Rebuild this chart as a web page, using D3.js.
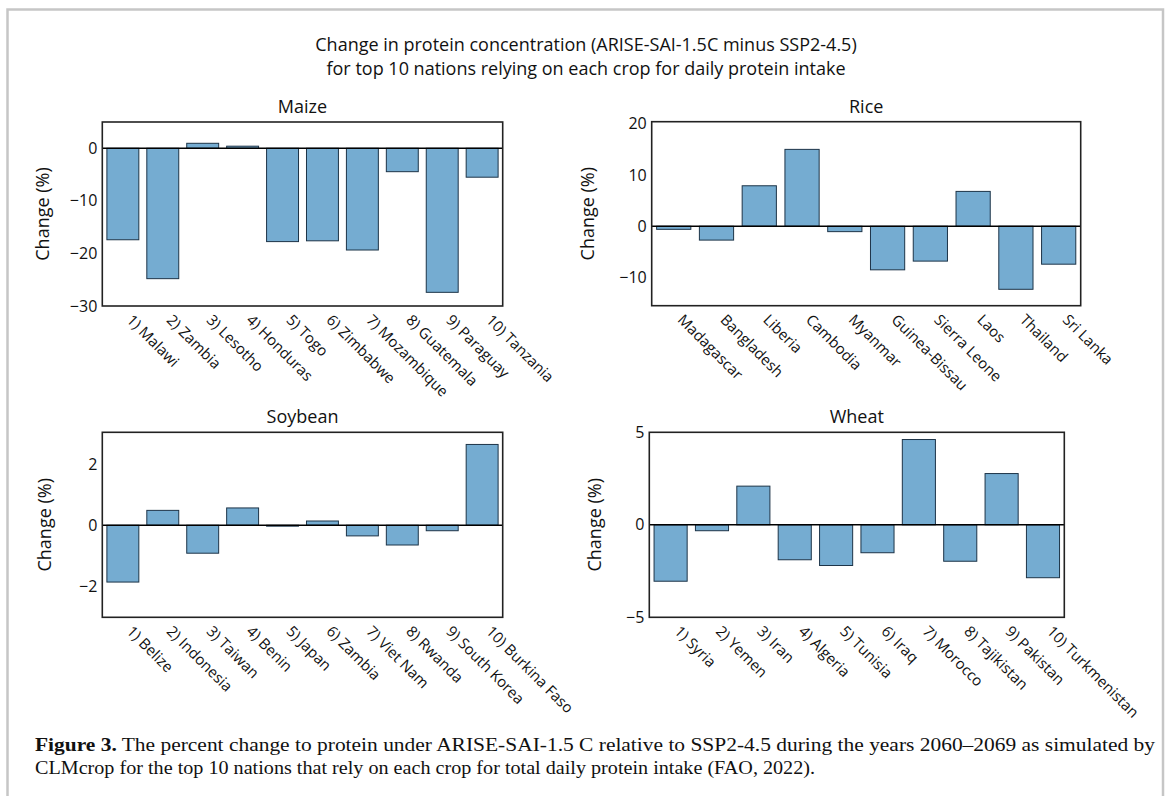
<!DOCTYPE html>
<html>
<head>
<meta charset="utf-8">
<script src="https://cdn.jsdelivr.net/npm/d3@7"></script>
<style>
    body { margin: 0; background: #fff; }
    svg text { font-family: 'Open Sans', 'Noto Sans', sans-serif; fill: #111; }
    .caption text { font-family: 'Liberation Serif', 'DejaVu Serif', serif; }
</style>
</head>
<body>
<div id="chart"></div>
<script>
// Data
const maizeNations = ['1) Malawi', '2) Zambia', '3) Lesotho', '4) Honduras', '5) Togo',
    '6) Zimbabwe', '7) Mozambique', '8) Guatemala', '9) Paraguay', '10) Tanzania'];
const maizeChange = [-17.4, -24.8, 0.95, 0.4, -17.75, -17.6, -19.35, -4.45, -27.4, -5.5];
const maizeTicks = [-30, -20, -10, 0];
const maizeDomain = [-30, 5];

const riceNations = ['Madagascar', 'Bangladesh', 'Liberia', 'Cambodia', 'Myanmar',
    'Guinea-Bissau', 'Sierra Leone', 'Laos', 'Thailand', 'Sri Lanka'];
const riceChange = [-0.6, -2.7, 7.9, 15.0, -1.05, -8.5, -6.8, 6.8, -12.3, -7.4];
const riceTicks = [-10, 0, 10, 20];
const riceDomain = [-15.5, 20.4];

const soyNations = ['1) Belize', '2) Indonesia', '3) Taiwan', '4) Benin', '5) Japan',
    '6) Zambia', '7) Viet Nam', '8) Rwanda', '9) South Korea', '10) Burkina Faso'];
const soyChange = [-1.87, 0.49, -0.92, 0.57, -0.03, 0.14, -0.35, -0.65, -0.18, 2.66];
const soyTicks = [-2, 0, 2];
const soyDomain = [-3.03, 3.06];

const wheatNations = ['1) Syria', '2) Yemen', '3) Iran', '4) Algeria', '5) Tunisia',
    '6) Iraq', '7) Morocco', '8) Tajikistan', '9) Pakistan', '10) Turkmenistan'];
const wheatChange = [-3.05, -0.32, 2.09, -1.89, -2.2, -1.51, 4.61, -1.97, 2.77, -2.86];
const wheatTicks = [-5, 0, 5];
const wheatDomain = [-5, 5];

const titleLines = [
    'Change in protein concentration (ARISE-SAI-1.5C minus SSP2-4.5)',
    'for top 10 nations relying on each crop for daily protein intake',
];

const width = 1167;
const height = 796;

const svg = d3.select('#chart')
    .append('svg')
    .attr('width', width)
    .attr('height', height);

// page frame
svg.append('rect')
    .attr('x', 7.5)
    .attr('y', 9.5)
    .attr('width', 1155.5)
    .attr('height', 900)
    .attr('fill', 'none')
    .attr('stroke', '#c6c6c6')
    .attr('stroke-width', 2.5);

// Suptitle
svg.append('g')
    .selectAll('text')
    .data(titleLines)
    .join('text')
    .attr('x', 586)
    .attr('y', (d, i) => 51 + i * 24)
    .attr('text-anchor', 'middle')
    .attr('font-size', 18)
    .text(d => d);

const panels = [
    { title: 'Maize', nations: maizeNations, values: maizeChange, ticks: maizeTicks, domain: maizeDomain,
      box: { left: 102.3, right: 502.7, top: 122, bottom: 306 }, ylabelX: 43 },
    { title: 'Rice', nations: riceNations, values: riceChange, ticks: riceTicks, domain: riceDomain,
      box: { left: 651.7, right: 1080.7, top: 121.7, bottom: 305.7 }, ylabelX: 588 },
    { title: 'Soybean', nations: soyNations, values: soyChange, ticks: soyTicks, domain: soyDomain,
      box: { left: 102.3, right: 502.7, top: 432.3, bottom: 617.3 }, ylabelX: 45 },
    { title: 'Wheat', nations: wheatNations, values: wheatChange, ticks: wheatTicks, domain: wheatDomain,
      box: { left: 649.3, right: 1064.3, top: 432.3, bottom: 617.3 }, ylabelX: 595 },
];

function renderPanel(p) {
    const g = svg.append('g');
    const b = p.box;

    const x = d3.scaleBand()
        .domain(p.nations)
        .range([b.left, b.right])
        .paddingInner(0.2)
        .paddingOuter(0.115);

    const y = d3.scaleLinear()
        .domain(p.domain)
        .range([b.bottom, b.top]);

    // Bars
    g.append('g')
        .selectAll('rect')
        .data(p.values)
        .join('rect')
        .attr('x', (d, i) => x(p.nations[i]))
        .attr('y', d => y(Math.max(0, d)))
        .attr('width', x.bandwidth())
        .attr('height', d => Math.abs(y(d) - y(0)))
        .attr('fill', '#75acd1')
        .attr('stroke', '#1d3448')
        .attr('stroke-width', 1);

    // zero line
    g.append('line')
        .attr('x1', b.left)
        .attr('x2', b.right)
        .attr('y1', y(0))
        .attr('y2', y(0))
        .attr('stroke', '#000')
        .attr('stroke-width', 1.5);

    // frame
    g.append('rect')
        .attr('x', b.left)
        .attr('y', b.top)
        .attr('width', b.right - b.left)
        .attr('height', b.bottom - b.top)
        .attr('fill', 'none')
        .attr('stroke', '#222')
        .attr('stroke-width', 1.6);

    // Y axis
    const yAxis = g.append('g')
        .attr('transform', `translate(${b.left}, 0)`)
        .call(d3.axisLeft(y)
            .tickValues(p.ticks)
            .tickFormat(d3.format('d'))
            .tickSize(0)
            .tickPadding(5));
    yAxis.select('.domain').remove();
    yAxis.selectAll('text')
        .attr('font-size', 16)
        .attr('fill', '#111');

    // X labels, rotated
    g.append('g')
        .selectAll('text')
        .data(p.nations)
        .join('text')
        .attr('transform', d => `translate(${x(d) + x.bandwidth() / 2 + 3}, ${b.bottom + 15}) rotate(45)`)
        .attr('font-size', 15)
        .text(d => d);

    // subplot title
    g.append('text')
        .attr('x', (b.left + b.right) / 2)
        .attr('y', b.top - 9)
        .attr('text-anchor', 'middle')
        .attr('font-size', 18)
        .text(p.title);

    // y label
    g.append('text')
        .attr('transform', `translate(${p.ylabelX}, ${(b.top + b.bottom) / 2}) rotate(-90)`)
        .attr('text-anchor', 'middle')
        .attr('dy', '0.35em')
        .attr('font-size', 18)
        .text('Change (%)');
}

panels.forEach(renderPanel);

// Caption
const caption = svg.append('g').attr('class', 'caption');
const line1 = caption.append('text')
    .attr('x', 35)
    .attr('y', 751)
    .attr('font-size', 19)
    .attr('textLength', 1120)
    .attr('lengthAdjust', 'spacingAndGlyphs');
line1.append('tspan').attr('font-weight', 'bold').text('Figure 3.');
line1.append('tspan').text(' The percent change to protein under ARISE-SAI-1.5 C relative to SSP2-4.5 during the years 2060\u20132069 as simulated by');

caption.append('text')
    .attr('x', 35)
    .attr('y', 774)
    .attr('font-size', 19)
    .attr('textLength', 780)
    .attr('lengthAdjust', 'spacingAndGlyphs')
    .text('CLMcrop for the top 10 nations that rely on each crop for total daily protein intake (FAO, 2022).');
</script>
</body>
</html>
